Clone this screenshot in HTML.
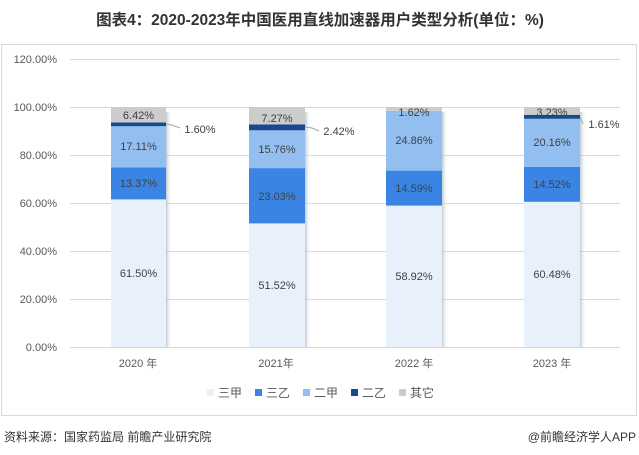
<!DOCTYPE html><html><head><meta charset="utf-8"><style>body{margin:0;background:#fff}svg{display:block;font-family:"Liberation Sans","Noto Sans CJK SC",sans-serif}</style></head><body>
<svg width="639" height="455" viewBox="0 0 639 455">
<defs><linearGradient id="sh" x1="0" x2="1"><stop offset="0" stop-color="#9aa6b6" stop-opacity=".6"/><stop offset="1" stop-color="#fff" stop-opacity="0"/></linearGradient></defs>
<text x="320" y="25" text-anchor="middle" font-size="15.5" font-weight="bold" fill="#333">图表4：2020-2023年中国医用直线加速器用户类型分析(单位：%)</text>
<rect x="1.5" y="44.5" width="635" height="371" fill="none" stroke="#d9d9d9"/>
<g stroke="#d9d9d9" stroke-width="1">
<line x1="70" x2="620" y1="59.5" y2="59.5"/><line x1="70" x2="620" y1="107.5" y2="107.5"/><line x1="70" x2="620" y1="155.5" y2="155.5"/><line x1="70" x2="620" y1="203.5" y2="203.5"/><line x1="70" x2="620" y1="251.5" y2="251.5"/><line x1="70" x2="620" y1="299.5" y2="299.5"/><line x1="70" x2="620" y1="347.5" y2="347.5"/></g>
<g font-size="11" fill="#595959" text-anchor="end">
<text x="57" y="63">120.00%</text><text x="57" y="111">100.00%</text><text x="57" y="159">80.00%</text><text x="57" y="207">60.00%</text><text x="57" y="255">40.00%</text><text x="57" y="303">20.00%</text><text x="57" y="351">0.00%</text></g>
<g fill="url(#sh)"><rect x="166" y="112" width="6" height="235"/><rect x="305" y="112" width="6" height="235"/><rect x="442" y="112" width="6" height="235"/><rect x="580" y="112" width="6" height="235"/></g>
<rect x="111" y="199.4" width="55" height="147.6" fill="#e8f0fb"/>
<rect x="111" y="167.3" width="55" height="32.1" fill="#3a85e4"/>
<rect x="111" y="126.2" width="55" height="41.1" fill="#93bff0"/>
<rect x="111" y="122.4" width="55" height="3.8" fill="#174a8c"/>
<rect x="111" y="107" width="55" height="15.4" fill="#cccccc"/>
<rect x="249" y="223.4" width="56" height="123.6" fill="#e8f0fb"/>
<rect x="249" y="168.1" width="56" height="55.3" fill="#3a85e4"/>
<rect x="249" y="130.3" width="56" height="37.8" fill="#93bff0"/>
<rect x="249" y="124.5" width="56" height="5.8" fill="#174a8c"/>
<rect x="249" y="107" width="56" height="17.5" fill="#cccccc"/>
<rect x="386" y="205.6" width="56" height="141.4" fill="#e8f0fb"/>
<rect x="386" y="170.6" width="56" height="35" fill="#3a85e4"/>
<rect x="386" y="110.9" width="56" height="59.7" fill="#93bff0"/>
<rect x="386" y="107" width="56" height="3.9" fill="#cccccc"/>
<rect x="524" y="201.8" width="56" height="145.2" fill="#e8f0fb"/>
<rect x="524" y="166.9" width="56" height="34.9" fill="#3a85e4"/>
<rect x="524" y="118.5" width="56" height="48.4" fill="#93bff0"/>
<rect x="524" y="114.8" width="56" height="3.9" fill="#174a8c"/>
<rect x="524" y="107" width="56" height="7.8" fill="#cccccc"/>
<g font-size="11" fill="#404040" text-anchor="middle">
<text x="138.5" y="119">6.42%</text><text x="138.5" y="150">17.11%</text><text x="138.5" y="187">13.37%</text><text x="138.5" y="277">61.50%</text>
<text x="277" y="122">7.27%</text><text x="277" y="153">15.76%</text><text x="277" y="200">23.03%</text><text x="277" y="289">51.52%</text>
<text x="414" y="116">1.62%</text><text x="414" y="144">24.86%</text><text x="414" y="192">14.59%</text><text x="414" y="280">58.92%</text>
<text x="552" y="116">3.23%</text><text x="552" y="146">20.16%</text><text x="552" y="188">14.52%</text><text x="552" y="278">60.48%</text>
<text x="200" y="133">1.60%</text><text x="339" y="135">2.42%</text><text x="604" y="128">1.61%</text></g>
<g stroke="#a6a6a6" fill="none"><path d="M166 124 L172 125 L180 128"/><path d="M305 127 L312 128 L319 131"/><path d="M580 117 L583 124"/></g>
<g font-size="11" fill="#595959" text-anchor="middle"><text x="138" y="367">2020 年</text><text x="276" y="367">2021年</text><text x="414" y="367">2022 年</text><text x="552" y="367">2023 年</text></g>
<g font-size="12" fill="#595959">
<rect x="207" y="389" width="7" height="7" fill="#e8f0fb"/><text x="218" y="397">三甲</text>
<rect x="255" y="389" width="7" height="7" fill="#3a85e4"/><text x="266" y="397">三乙</text>
<rect x="303" y="389" width="7" height="7" fill="#93bff0"/><text x="314" y="397">二甲</text>
<rect x="351" y="389" width="7" height="7" fill="#174a8c"/><text x="362" y="397">二乙</text>
<rect x="399" y="389" width="7" height="7" fill="#cccccc"/><text x="410" y="397">其它</text></g>
<text x="4" y="441" font-size="12" fill="#333">资料来源：国家药监局 前瞻产业研究院</text>
<text x="636" y="441" font-size="12" fill="#333" text-anchor="end">@前瞻经济学人APP</text>
</svg></body></html>
